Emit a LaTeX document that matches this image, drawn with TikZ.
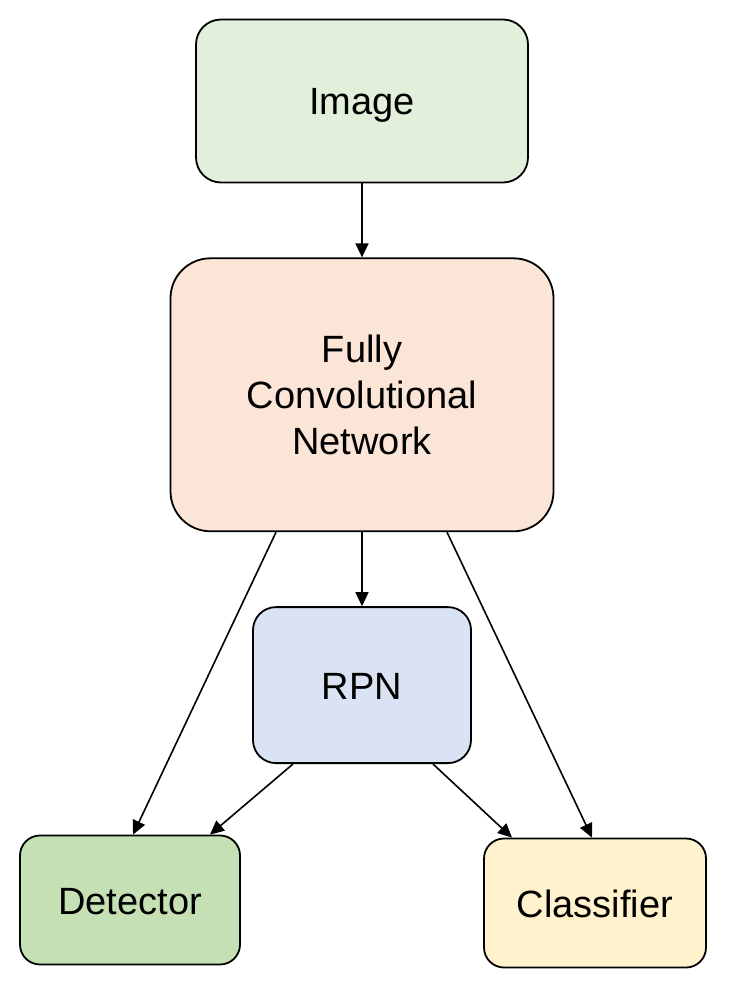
\documentclass[tikz,border=0pt]{standalone}
\usepackage{fontspec}
\setmainfont{Liberation Sans}
\usepackage{tikz}
\usetikzlibrary{positioning,calc,arrows.meta}
\definecolor{imageGreen}{HTML}{E2EFDA}
\definecolor{fcnOrange}{HTML}{FBE5D6}
\definecolor{rpnBlue}{HTML}{DAE3F3}
\definecolor{detGreen}{HTML}{C5E0B4}
\definecolor{clsYellow}{HTML}{FFF2CC}

\begin{document}
\begin{tikzpicture}[x=1pt, y=-1pt,
        every node/.style={font=\fontsize{38}{46}\selectfont, align=center, inner sep=0pt, text height=28pt, text depth=0pt},
        box/.style={draw, line width=1.8pt},
        arr/.style={-{Triangle[length=14pt,width=13pt]}, line width=1.6pt}]
        \useasboundingbox (0,0) rectangle (732,992);

        \node[box, fill=imageGreen, rounded corners=25pt, minimum width=332pt, minimum height=163pt] (img) at (362,101)
            {Image};
        \node[box, fill=fcnOrange, rounded corners=40pt, minimum width=383pt, minimum height=273pt, text height=120pt, below=74pt of img] (fcn)
            {Fully\\Convolutional\\Network};
        \node[box, fill=rpnBlue, rounded corners=23pt, minimum width=218pt, minimum height=156pt, below=74pt of fcn] (rpn)
            {RPN};
        \node[box, fill=detGreen, rounded corners=20pt, minimum width=220pt, minimum height=129pt] (det) at (130,900)
            {Detector};
        \node[box, fill=clsYellow, rounded corners=20pt, minimum width=222pt, minimum height=129pt] (cls) at (595,903)
            {Classifier};

        \draw[arr] (img.south) -- (fcn.north);
        \draw[arr] (fcn.south) -- (rpn.north);
        \draw[arr] ($(fcn.south)+(-86,0)$) -- ($(det.north)+(3,0)$);
        \draw[arr] ($(fcn.south)+(85,0)$) -- ($(cls.north)+(-3,0)$);
        \draw[arr] ($(rpn.south)+(-69,0)$) -- ($(det.north)+(80,0)$);
        \draw[arr] ($(rpn.south)+(71,0)$) -- ($(cls.north)+(-83,0)$);
    \end{tikzpicture}
\end{document}
